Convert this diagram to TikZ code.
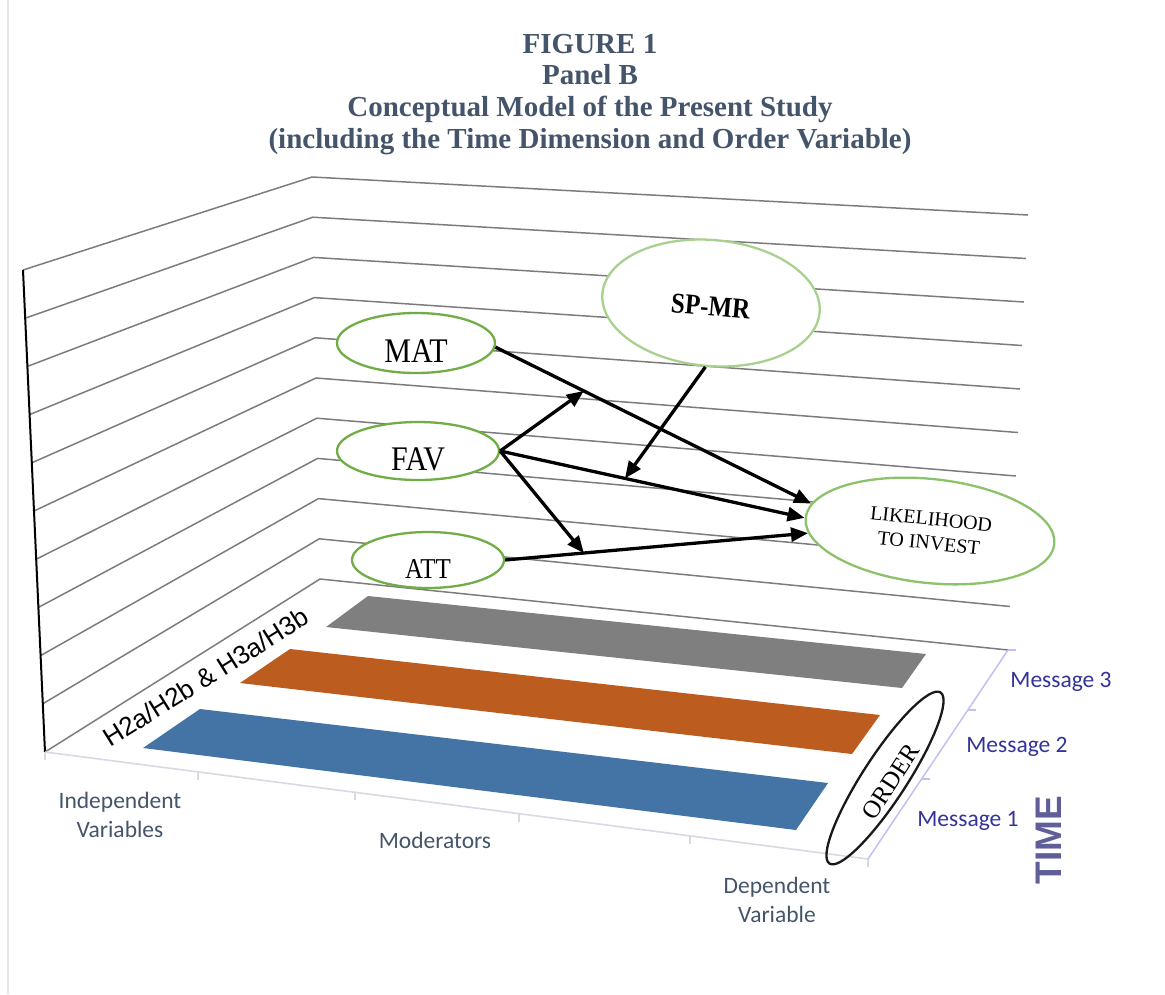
\documentclass[tikz,border=0pt]{standalone}
\usepackage{fontspec}
\setmainfont{Liberation Serif}
\newfontfamily\calfont{Carlito}
\newfontfamily\arfont{Liberation Sans}
\usetikzlibrary{shapes.geometric,arrows.meta,calc}
\definecolor{titlec}{HTML}{44546A}
\definecolor{nodegreen}{HTML}{70AD47}
\definecolor{midgreen}{HTML}{8CC26A}
\definecolor{lightgreen}{HTML}{A9D18E}
\definecolor{gridc}{HTML}{7C7C7C}
\definecolor{barblue}{HTML}{4374A5}
\definecolor{barorange}{HTML}{BC5C1F}
\definecolor{bargray}{HTML}{7F7F7F}
\definecolor{msgc}{HTML}{333399}
\definecolor{timec}{HTML}{5F5E99}
\definecolor{flooredge}{HTML}{D5DAE3}
\definecolor{depthedge}{HTML}{C0C0F4}
\definecolor{framec}{HTML}{E3E6EC}
\newcommand\fsz[1]{\fontsize{#1}{#1}\selectfont}
\newcommand\lowered[2]{\raisebox{#1}[0pt][0pt]{\scalebox{1}[1.15]{#2}}}
\begin{document}
\begin{tikzpicture}[x=1pt,y=-1pt,
  titletext/.style={font=\bfseries\fsz{29}, text=titlec, anchor=base, inner sep=0pt},
  gridline/.style={draw=gridc, line width=1.5pt},
  ell/.style={ellipse, draw=nodegreen, fill=white, line width=2.3pt, inner sep=0pt},
  arr/.style={-{Triangle[length=17pt,width=14pt]}, line width=3.3pt, black},
  axislabel/.style={font=\calfont\fsz{23.5}, text=titlec, align=center, inner sep=0pt},
  msglabel/.style={font=\calfont\fsz{23.5}, text=msgc, anchor=base, inner sep=0pt},
  tick/.style={draw=flooredge, line width=1.3pt}
]
\useasboundingbox (0,0) rectangle (1165,994);
% faint frame line
\draw[framec, line width=1.2pt] (8,0) -- (8,994);

% title
\node[titletext] (t1) at (590,53) {FIGURE 1};
\node[titletext] (t2) at (590,84) {Panel B};
\node[titletext] (t3) at (590,116) {Conceptual Model of the Present Study};
\node[titletext] (t4) at (590,148) {(including the Time Dimension and Order Variable)};

% grid coordinates
\foreach \i in {0,...,10}{
  \coordinate (L\i) at ({23+2.2*\i},{270+48.2*\i});
  \coordinate (C\i) at ({312+0.8*\i},{177+40.2*\i});
  \coordinate (R\i) at ({1028-2*\i},{215+43.5*\i});
}
\foreach \i in {0,...,10}{
  \draw[gridline] (L\i) -- (C\i) -- (R\i);
}
% left vertical axis
\draw[black, line width=2pt] (L0) -- (L10);

% floor front edge and ticks
\coordinate (F1) at (868,859);
\draw[draw=flooredge, line width=1.6pt] (L10) -- (F1);
\foreach \x in {198,355,519,690}{
  \path (L10) -- (F1) coordinate[pos={(\x-45)/823}] (tk);
  \draw[tick] (tk) -- ++(0,8);
}
\draw[tick] (F1) -- ++(0,8);
\draw[tick] (L10) -- ++(0,8);
% depth edge
\draw[draw=depthedge, line width=1.5pt] (F1) -- (R10);
\path (F1) -- (R10) coordinate[pos=0.383] (d1) coordinate[pos=0.713] (d2);
\draw[draw=depthedge, line width=1.2pt] (d1) -- ++(8,0);
\draw[draw=depthedge, line width=1.2pt] (d2) -- ++(8,0);
\draw[draw=depthedge, line width=1.2pt] (R10) -- ++(8,0);

% bars
\fill[barblue] (143,748) -- (200,709) -- (828,783) -- (796,830) -- cycle;
\fill[barorange] (240,683) -- (290,649) -- (880,715) -- (852,754) -- cycle;
\fill[bargray] (326,627) -- (368,596) -- (926,654) -- (902,688) -- cycle;

% floor label
\node[font=\arfont\fsz{26}, rotate=32, anchor=base west, inner sep=0pt] (hyp) at (110,748) {H2a/H2b \& H3a/H3b};

% axis labels
\node[axislabel] (iv) at (120,815) {Independent\\[5pt]Variables};
\node[axislabel, anchor=base] (mod) at (435,848) {Moderators};
\node[axislabel] (dv) at (777,900) {Dependent\\[5pt]Variable};

% time labels
\node[msglabel] (m3l) at (1061,687) {Message 3};
\node[msglabel] (m2l) at (1017,752) {Message 2};
\node[msglabel] (m1l) at (968,826) {Message 1};
\node[font=\arfont\bfseries\fsz{37}, text=timec, rotate=90, inner sep=0pt] (time) at (1048.5,840) {TIME};

% order ellipse
\node[ellipse, draw=black!90, line width=2.3pt, inner sep=0pt, minimum width=204, minimum height=44, rotate=57, font=\fsz{25}] (order) at (885,778) {\raisebox{-15pt}[0pt][0pt]{ORDER}};

% model nodes
\node[ell, minimum width=158, minimum height=60, font=\fsz{30}] (MAT) at (416,343) {\lowered{-19pt}{MAT}};
\node[ell, minimum width=162, minimum height=58, font=\fsz{30}] (FAV) at (418,451) {\lowered{-19pt}{FAV}};
\node[ell, minimum width=152, minimum height=56, font=\fsz{25}] (ATT) at (428,560) {\lowered{-18pt}{ATT}};
\node[ell, draw=lightgreen, minimum width=218, minimum height=126, rotate=-5, font=\bfseries\fsz{25}] (SP) at (711,303) {\lowered{-13pt}{SP-MR}};
\node[ell, draw=midgreen, minimum width=250, minimum height=104, rotate=-6, font=\fsz{20}, align=center] (LIK) at (930,531) {LIKELIHOOD\\[4pt]TO INVEST};

% helper points on paths
\path (MAT.-3) -- (LIK.173) coordinate[pos=0.28] (p1);
\path (ATT.east) -- (LIK.187) coordinate[pos=0.26] (p2);
\path (FAV.east) -- (LIK.180) coordinate[pos=0.41] (p3);

% arrows
\draw[arr] (MAT.-3) -- (LIK.173);
\draw[arr] (FAV.east) -- (LIK.180);
\draw[arr] (ATT.east) -- (LIK.187);
\draw[arr] (FAV.east) -- (p1);
\draw[arr] (FAV.east) -- (p2);
\draw[arr] (SP.south) -- (p3);
\end{tikzpicture}
\end{document}
